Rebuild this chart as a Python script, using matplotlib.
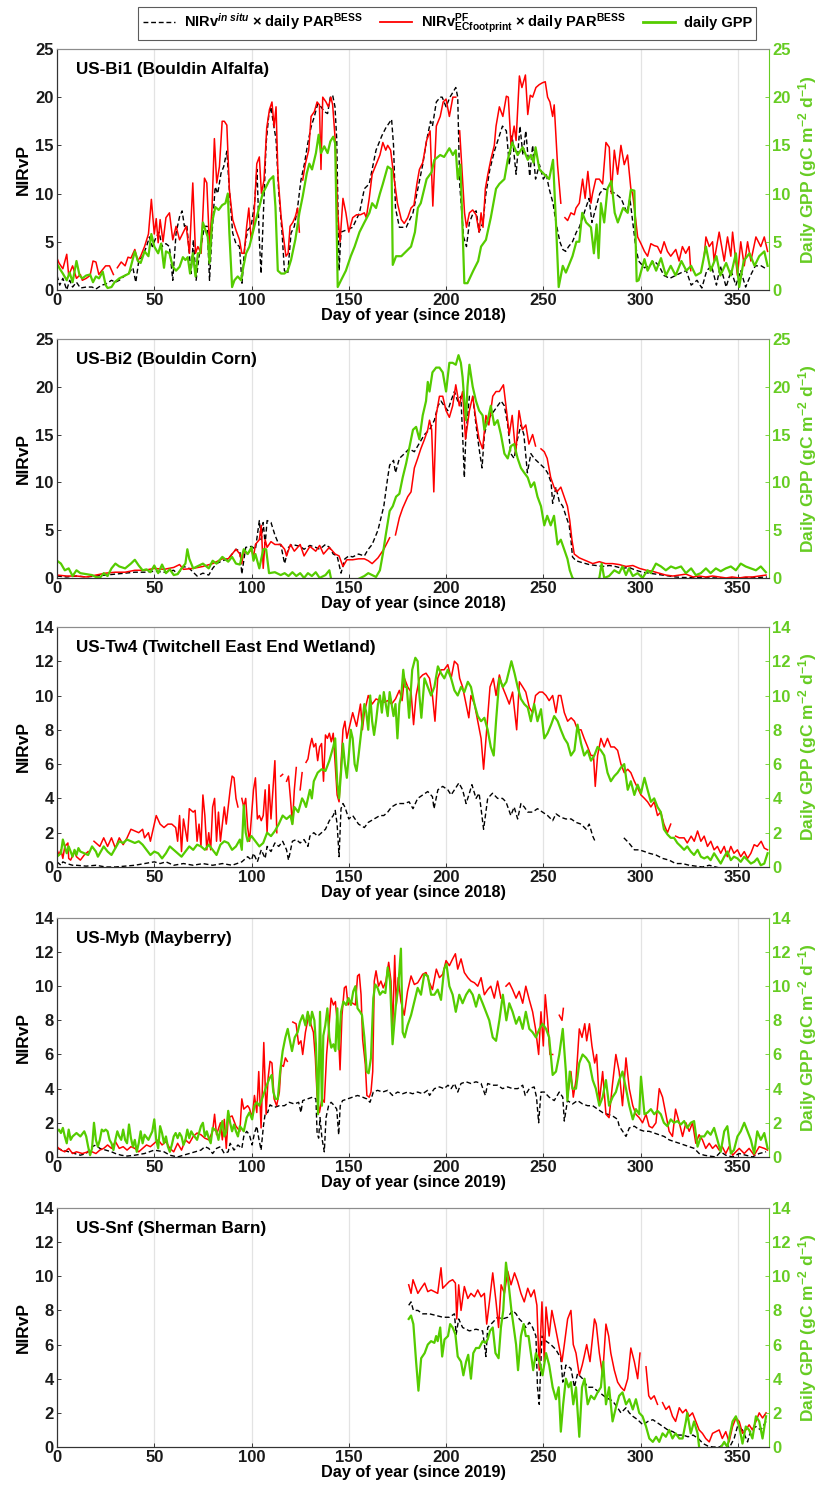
import numpy as np
import matplotlib
matplotlib.use("Agg")
import matplotlib.pyplot as plt
from matplotlib.lines import Line2D

nan = np.nan

# ---------------------------------------------------------------- data
# Each series is a list of (day of year, value); nan marks a data gap.

# US-Bi1 (Bouldin Alfalfa), 2018
bi1_insitu = [(0,1.5),(1.4,0.5),(3,1.2),(5,0.0),(6.5,1.0),(8,0.3),(10,0.8),(12,0.2),(15,0.3),(18,0.3),(20,0.1),(23,0.5),(25,0.6),(28,1.0),(30,0.8),(32,1.0),(35,1.5),(37,1.8),(39,2.3),(40.5,0.8),(42,3.0),(44,3.5),(46,4.5),(47.5,5.5),(49,4.5),(51,5.5),(52.5,6.0),(54,4.5),(56,4.8),(57.8,4.5),(59.5,1.0),(61.2,5.9),(63,7.6),(64.3,8.2),(65.5,6.6),(66.7,6.8),(67.7,4.5),(68.9,1.7),(70.1,5.2),(71.5,1.0),(73.2,3.8),(74.6,5.2),(75.8,6.6),(77.2,6.6),(78.4,1.0),(79.7,5.9),(81.3,10.7),(82.6,10.0),(84.3,12.1),(85.7,12.8),(87.3,14.4),(88.6,10.4),(90.3,5.9),(92,4.8),(93.8,4.5),(95.1,0.7),(96.5,4.5),(98,6.2),(99.8,6.6),(101.5,8.9),(102.8,12.5),(104,5.2),(104.9,1.7),(106.1,8.0),(107.5,15.2),(108.8,18.0),(110,19.0),(111.2,17.3),(112.6,15.6),(113.9,10.4),(115.7,5.9),(116.9,2.0),(118.6,1.7),(120.3,5.9),(122,6.6),(123.7,8.6),(125.4,11.4),(127.2,13.1),(128.9,15.2),(130.6,16.9),(132.3,18.0),(134,19.3),(135.7,19.0),(137.4,18.5),(139.1,18.3),(140.5,20.0),(141.7,20.2),(142.9,19.0),(143.8,15.6),(145,2.0),(146,6.0),(148.5,6.2),(152,6.5),(155.5,8.0),(158,10.5),(160.5,11.0),(164,14.5),(167,16.0),(169,16.8),(172,17.7),(173,15.0),(174,8.5),(176,6.5),(179.5,6.5),(183,8.0),(186,11.0),(188,13.0),(190,15.5),(192,17.5),(193,17.0),(195,19.5),(197,20.0),(198,20.0),(200,19.0),(202,20.0),(203.5,20.5),(205,21.0),(206,20.0),(207,11.0),(209,5.5),(210.5,4.5),(212,7.0),(214,8.0),(215.5,8.2),(217,6.0),(219,7.0),(220.5,10.0),(222.5,12.5),(225,14.5),(227.4,16.0),(229,17.0),(231,16.5),(232.5,13.0),(234,16.0),(236,12.0),(238,17.0),(239.5,14.0),(241,16.5),(243,11.8),(244.5,15.0),(246,11.5),(248,13.0),(250,11.5),(251.5,12.0),(253,10.5),(255,9.0),(256.5,7.0),(258.5,5.0),(260,4.2),(261.5,4.0),(263,4.5),(265,5.0),(267,6.0),(268.5,6.5),(271,8.0),(273.5,9.5),(275,7.0),(277,8.5),(279,10.0),(281,10.5),(284,10.3),(287,10.0),(290,9.5),(293,8.0),(294.5,9.5),(296,7.0),(297.5,4.5),(299,3.0),(302,2.3),(304.5,2.5),(307,3.0),(309.5,2.5),(312,1.5),(315,1.2),(318,1.5),(321,1.8),(323.5,2.0),(326,0.5),(329,1.0),(331.5,0.2),(334,2.0),(336.5,2.5),(339,0.5),(341,2.5),(344,0.3),(346.5,2.0),(349,0.5),(351.5,2.0),(354,0.3),(356.5,1.5),(359,2.5),(362,2.5),(364.5,2.2)]
bi1_pf = [(0,3.3),(1,2.8),(3,2.2),(5,3.7),(6,1.5),(8,2.5),(10,1.2),(12,1.6),(13,1.0),(15,1.2),(17,1.5),(18.5,3.0),(20,2.9),(21.5,1.6),(23,2.0),(25,2.5),(27,2.5),(29,1.6),(30,nan),(31,2.3),(33,2.9),(35,2.5),(36.5,3.4),(38,3.3),(40,4.2),(41.5,3.0),(43,3.5),(45,4.5),(47,5.8),(48.5,9.4),(50,5.8),(51,7.4),(52,4.9),(53,7.3),(54.5,5.0),(56,7.5),(57.8,8.0),(59.5,5.2),(61.2,6.6),(63,5.2),(64.7,5.9),(66.4,6.6),(68.1,3.8),(69.8,11.1),(71.2,3.8),(72.4,4.5),(74.1,3.8),(75.8,11.6),(77,11.1),(78.4,4.5),(79.7,8.6),(80.9,15.7),(82.1,11.1),(83.5,12.8),(84.9,17.5),(86,17.5),(87.3,17.1),(88.6,10.4),(90.3,7.3),(92,6.2),(93.8,5.2),(95,3.8),(96.2,3.8),(97.5,6.6),(98.6,8.5),(99.8,5.2),(101,6.6),(102.7,13.1),(104,13.8),(105.1,10.0),(106.4,11.4),(107.8,16.8),(109.2,18.7),(110.5,19.5),(111.6,16.9),(112.6,19.0),(113.6,11.8),(115.2,7.6),(116.4,5.5),(117.7,3.5),(118.8,3.8),(119.8,6.6),(121.2,7.0),(122.5,7.6),(123.7,8.5),(124.6,6.0),(125.4,nan),(126.3,11.4),(127.7,13.1),(129.4,14.5),(130.6,18.0),(132.3,18.5),(133.7,19.5),(134.9,19.2),(135.7,12.5),(136.6,20.0),(138.3,19.5),(139.5,19.0),(140.8,20.0),(141.7,19.2),(142.9,15.9),(144.3,8.0),(145.5,5.0),(147,9.5),(148.5,8.0),(150,6.0),(152,7.5),(154,7.8),(156,7.8),(158,8.0),(159,7.5),(160.5,9.5),(162,12.0),(164,13.0),(166,14.0),(167.5,15.3),(169,14.5),(170,15.0),(171.5,14.5),(173,12.0),(175,9.0),(177,7.3),(178.5,6.9),(180.3,7.5),(182,8.5),(183.5,8.8),(185,11.0),(186.3,12.5),(188,13.2),(190,15.5),(191.8,16.5),(193.2,8.7),(195,17.0),(197,18.0),(198.5,19.5),(200,19.8),(201.7,18.0),(203.5,20.0),(205,20.0),(206,nan),(207,16.5),(209.5,8.0),(210.5,6.5),(212,8.0),(213.7,8.3),(215.4,7.8),(217,6.0),(218,8.0),(219,6.5),(220.2,10.5),(221.5,12.0),(223,13.5),(224.8,15.0),(225.7,17.0),(227.4,19.0),(229.2,18.0),(231,20.1),(232,20.0),(233.4,15.0),(235,17.0),(236,15.5),(237.7,22.2),(239,21.0),(240.8,22.3),(242,18.2),(243.3,20.2),(244.5,20.0),(246.2,21.0),(247.9,21.3),(249.6,21.5),(251,21.6),(252.2,20.0),(253.4,19.5),(254.8,18.0),(255.6,19.2),(257.3,13.0),(259,9.0),(260,nan),(261.1,7.5),(262.5,7.2),(264.2,8.0),(265.9,7.8),(266.8,8.5),(268.5,9.0),(270.2,11.5),(271.5,9.5),(272.9,12.3),(274.5,9.0),(275.3,10.0),(277,11.5),(278.8,11.5),(280.5,11.0),(282.2,15.3),(283.9,14.8),(285,10.0),(286.5,14.5),(288.2,12.0),(289.9,15.0),(291.6,13.0),(293.3,14.0),(295,10.5),(295.9,10.0),(296.8,8.5),(298.5,5.5),(300.2,4.8),(302,4.0),(303.6,3.5),(305.3,4.8),(307,4.6),(308.7,4.5),(310.4,3.8),(312.1,5.0),(313.8,4.0),(315.5,3.5),(318.1,4.2),(319.8,3.0),(321.5,4.5),(323.2,3.8),(325,4.5),(325.8,2.0),(326.5,nan),(332.7,3.5),(333.6,5.5),(335.3,4.5),(337,5.0),(337.8,3.0),(340.4,6.0),(343,3.0),(344.7,5.5),(346.4,3.5),(347.3,6.0),(349,3.0),(349.8,1.5),(351.5,5.0),(353.3,2.5),(355,5.0),(356.7,3.0),(359.3,5.5),(361.8,4.5),(363.6,5.5),(365.3,4.0)]
bi1_gpp = [(0,2.7),(1.4,2.2),(3,1.7),(5,1.0),(6.5,1.8),(8,0.8),(10,3.0),(11.6,1.5),(13,1.2),(15,1.5),(17,1.6),(18.5,0.8),(20,1.4),(21.6,1.2),(23.5,1.9),(25,0.5),(26,0.2),(28,0.3),(29.6,0.8),(32,1.2),(35,1.5),(37,1.7),(40,4.0),(41.6,3.0),(43,2.8),(45,4.0),(47,3.5),(48.5,5.8),(50,4.5),(52,3.8),(53.5,4.8),(55,2.3),(56,4.0),(57.8,3.8),(59.5,2.4),(61.2,2.0),(63,2.4),(64.7,3.4),(66,3.1),(67.2,3.4),(68.4,1.7),(69.8,3.8),(71.2,1.4),(72.4,3.8),(73.6,3.8),(75,7.0),(76.3,6.2),(77.5,5.5),(78.4,2.8),(79.7,7.0),(81.4,8.6),(83.1,8.3),(84.9,8.8),(86.6,9.0),(87.8,10.0),(88.6,5.9),(90,0.3),(91.2,1.0),(92.9,1.4),(94.6,1.0),(95.8,2.4),(97.2,3.8),(98.9,4.5),(100.6,5.9),(102.3,7.3),(104,8.6),(105.7,10.0),(107.5,10.7),(109.2,11.4),(111.2,11.8),(112.3,8.6),(113.5,2.0),(115.2,1.7),(116.9,1.7),(118.6,2.0),(120.3,3.1),(122.5,5.2),(124.6,8.0),(126.3,9.7),(128.4,12.1),(129.7,13.1),(131.1,12.5),(133.1,14.2),(134.5,16.1),(135.7,14.2),(137.4,14.9),(139.1,14.2),(140.5,15.4),(142,15.9),(143,15.2),(144.3,0.3),(146,1.0),(148.5,2.0),(151,3.5),(153,4.5),(155.5,6.0),(158,7.0),(160.6,8.0),(162,9.0),(164,8.5),(166,10.0),(167.5,11.0),(170,12.8),(172,12.5),(172.6,2.6),(174.3,3.5),(177,3.5),(179.5,4.0),(182,4.5),(184,6.0),(185.5,8.5),(187,9.0),(190,11.5),(192.5,12.2),(194,13.5),(197,14.0),(199,13.8),(201.7,14.7),(203.5,14.0),(205,14.5),(206,11.5),(207.4,13.0),(209.4,0.7),(211,0.7),(214,2.0),(216.5,3.0),(218,4.5),(220.5,5.2),(223,7.5),(225.7,10.5),(227.4,11.0),(230,11.5),(231.7,13.5),(234,15.3),(236.8,14.0),(239.4,14.8),(242,13.5),(243.6,14.0),(245,13.2),(246,14.8),(248,12.5),(250.5,12.0),(253,11.5),(255,13.5),(256.5,7.0),(257.9,0.3),(260,2.5),(261.6,1.8),(263,2.5),(265,3.5),(267,5.0),(268.5,5.0),(270,8.0),(272,7.0),(274.5,6.5),(276,3.8),(277.4,6.8),(278.4,3.3),(279.6,9.0),(281.3,7.0),(283,10.5),(285,11.3),(286.7,8.0),(288.3,7.0),(291,8.5),(293.4,8.0),(295,10.4),(296.8,10.3),(298,0.9),(299,1.0),(302,3.2),(303.6,2.0),(306,3.0),(308,2.0),(310.5,3.3),(313,1.5),(315.5,2.5),(318,1.5),(321,3.0),(323.5,2.0),(326,2.5),(328.4,1.5),(331,1.8),(333.6,4.5),(336,2.0),(339,3.5),(341,1.5),(344,2.8),(346.4,1.5),(349,3.8),(350.7,0.3),(353,3.0),(356,3.8),(358.6,2.5),(361,3.5),(363.6,4.0),(365.3,2.5)]

# US-Bi2 (Bouldin Corn), 2018
bi2_insitu = [(0,0.2),(5,0.1),(10,0.2),(15,0.1),(20,0.2),(25,0.3),(30,0.4),(35,0.5),(40,0.6),(45,0.6),(50,0.7),(55,0.6),(60,0.8),(62,0.4),(65,1.2),(68,1.0),(70,0.6),(72,0.2),(75,0.5),(78,0.3),(80,1.0),(82,1.5),(85,1.8),(88,2.0),(90,2.5),(92,3.0),(94,2.8),(95,0.4),(97,3.2),(100,3.3),(102,3.0),(103,4.5),(104,6.0),(105,4.0),(106,5.8),(107,3.5),(108,6.0),(110,5.8),(112,4.5),(114,3.5),(115,3.5),(117,1.5),(119,3.2),(121,3.5),(125,3.3),(127,3.0),(130,3.4),(133,3.2),(135,3.0),(138,3.5),(140,3.2),(142,2.5),(144,2.3),(146,0.5),(148,2.0),(150,2.3),(152,2.2),(155,2.5),(158,2.3),(160,3.0),(162,3.5),(165,5.0),(168,7.5),(170,10.5),(171,11.8),(173,12.3),(174,11.0),(176,12.5),(178.6,13.0),(181,13.5),(183.7,13.2),(186,14.0),(188.9,15.0),(191.5,15.5),(194,16.5),(195.8,18.0),(197.4,18.5),(199,18.0),(200.9,17.5),(202.5,18.5),(204.3,19.5),(206,18.5),(207.6,19.0),(208.5,15.0),(209.4,10.5),(210.2,15.0),(212,19.0),(213.7,19.0),(215.4,16.0),(217,13.5),(218.5,11.5),(219.7,15.0),(221.4,16.5),(223,17.0),(224.8,17.5),(226.5,18.0),(228.3,18.5),(230,18.0),(231.7,16.0),(233.3,13.0),(235,12.5),(236.7,14.5),(238.5,16.0),(240,15.0),(241.8,11.0),(243.6,13.0),(245.3,12.5),(247.9,12.0),(250.5,11.5),(252.2,11.0),(254,10.0),(254.8,7.8),(256.5,9.5),(258.2,8.0),(260,7.5),(261.6,6.5),(263.3,5.5),(264.2,4.0),(265,2.2),(266.8,1.8),(270,1.6),(273.6,1.4),(277,1.3),(280.5,1.2),(284,1.3),(287,1.2),(290.7,1.0),(294,1.1),(297.6,0.8),(301,0.6),(304.5,0.5),(307.8,0.4),(311.3,0.3),(314.7,0.2),(318,0.1),(321.6,0.05),(330,0.02),(340,0.0),(350,0.02),(360,0.05),(365,0.1)]
bi2_pf = [(0,0.3),(5,0.2),(10,0.2),(15,0.1),(20,0.3),(25,0.5),(30,0.6),(35,0.6),(40,0.8),(45,0.8),(50,1.0),(55,0.9),(60,1.1),(63,1.4),(65,0.9),(70,1.0),(75,1.2),(80,1.5),(85,2.0),(88,2.0),(90,2.5),(92,3.0),(94,2.5),(95,1.5),(96,2.8),(98,2.5),(100,3.0),(101,2.2),(102,3.5),(104,4.0),(105,5.5),(106,1.0),(107,4.0),(108,3.2),(110,3.8),(112,3.5),(115,3.5),(117,3.0),(118,2.3),(120,3.5),(122,2.8),(125,3.5),(127,2.3),(130,3.3),(133,2.8),(135,3.4),(137,2.5),(140,3.2),(143,2.5),(145,2.3),(147,1.2),(149,1.9),(152,1.9),(155,2.0),(158,2.0),(160,1.8),(162,1.5),(165,2.1),(168,3.0),(171,4.2),(172,nan),(174,4.5),(176,6.3),(177.7,7.3),(180.3,8.5),(182,9.0),(183.7,11.5),(185.4,12.5),(187,13.5),(188.9,14.5),(190.6,15.5),(191.5,16.5),(192.6,15.5),(193.7,9.0),(194.9,17.0),(196.6,19.0),(198.3,19.0),(200,17.5),(201.7,16.8),(203.4,18.0),(205,20.2),(206.8,18.0),(208.5,19.5),(210,14.5),(212,17.5),(213.7,19.0),(215.4,16.5),(217,14.5),(218.8,13.5),(220.5,17.0),(222,16.0),(224,19.0),(225.7,19.5),(227.4,19.5),(229.5,20.2),(230.8,18.0),(232.5,15.0),(234,17.0),(235.8,13.0),(237.5,17.5),(239.2,15.5),(241,16.0),(242.6,14.0),(244.5,15.0),(246,13.8),(247,nan),(248.8,13.5),(250.5,13.2),(252,12.5),(253.8,10.5),(255.5,9.5),(257,9.0),(259,9.5),(260.7,8.5),(262.4,7.5),(263.6,6.0),(264.7,4.0),(265.9,2.5),(268.5,2.1),(272,1.8),(275.4,1.5),(278.8,1.7),(282,1.5),(285.6,1.5),(289,1.4),(292.5,1.2),(296,1.3),(299.4,1.0),(303,0.8),(306,0.7),(309.6,0.5),(313,0.3),(316.6,0.2),(320,0.3),(323.3,0.4),(327,0.1),(330,0.2),(333.5,0.1),(337,0.2),(340.4,0.1),(344,0.0),(347,0.1),(350.7,0.0),(354,0.1),(357.5,0.1),(361,0.2),(364.5,0.3)]
bi2_gpp = [(0,1.8),(2,1.5),(4,0.8),(6,1.0),(8,0.2),(10,0.8),(12,0.5),(15,0.4),(18,0.3),(20,0.1),(22,0.0),(24,0.5),(26,0.2),(28,1.0),(30,1.5),(32,1.2),(35,1.0),(38,1.5),(40,1.9),(42,1.3),(44,0.8),(46,0.9),(48,0.6),(50,1.3),(52,0.5),(54,1.4),(56,0.5),(58,0.9),(60,0.3),(62,0.4),(64,1.0),(66,1.5),(67,3.0),(68,2.0),(70,1.0),(72,1.2),(75,1.5),(78,1.0),(80,1.8),(82,1.5),(85,2.2),(88,1.7),(90,2.2),(92,1.5),(94,1.4),(96,3.0),(98,2.5),(100,3.2),(101,1.8),(102,2.5),(104,1.0),(106,3.0),(107.5,3.0),(109,0.5),(112,0.6),(115,0.3),(117,0.5),(119,0.2),(121,0.6),(123,0.2),(125,0.5),(127,0.0),(129,0.5),(131,0.2),(133,0.6),(135,0.0),(138,0.3),(140,0.8),(141,-0.2),(145,-0.8),(150,-0.8),(154,-0.2),(156,0.0),(158,0.2),(160,0.5),(162,0.3),(164,0.1),(166,0.8),(167.5,2.5),(169,4.5),(171,7.0),(172.6,7.5),(174.3,8.5),(176,8.8),(177.7,10.5),(179.5,12.0),(181,13.5),(183,15.5),(184.6,15.8),(186.3,14.5),(188,17.0),(189.7,18.5),(190.6,20.5),(191.5,19.5),(193,21.5),(194.9,22.0),(196.6,22.0),(198.3,21.5),(200,19.5),(201.7,22.5),(203.4,22.5),(205,22.3),(206.4,23.3),(207.6,22.5),(208.5,21.0),(209.4,18.5),(210.3,16.5),(211,20.0),(212,22.3),(213.7,20.0),(215.4,18.5),(217,17.5),(218.8,17.0),(219.7,15.5),(221.4,16.5),(223,18.0),(224.8,16.0),(226.5,16.5),(228.2,15.0),(230,13.0),(231.7,12.5),(233.4,13.8),(235,14.0),(236.8,12.5),(238.5,11.5),(240.2,11.0),(242,10.5),(243.6,9.5),(245.3,10.0),(247,8.5),(248.8,7.5),(250.5,5.5),(252,6.5),(253.8,5.5),(255.5,6.5),(257.3,3.5),(259,4.0),(260.7,3.0),(262.4,2.0),(263.6,0.8),(265,0.0),(268,-0.5),(273,-0.8),(277,-0.3),(278.8,0.0),(280,1.5),(281.3,0.0),(283.8,0.2),(286.5,0.8),(289,0.5),(290.7,1.2),(292.5,0.3),(294,1.0),(296,0.2),(298.5,0.5),(301,0.0),(303.6,0.8),(305.3,0.5),(307.9,1.5),(310.5,1.2),(313,0.8),(315.6,1.2),(318,1.0),(320.8,1.2),(323.3,0.5),(326,1.0),(328.4,0.3),(331,0.5),(333.6,1.0),(336,0.5),(338.7,1.0),(341.2,0.7),(343.8,1.0),(346.4,1.2),(349,0.8),(351.5,1.5),(354,1.2),(356.7,1.0),(359.3,0.8),(361.8,1.2),(364.4,0.6)]

# US-Tw4 (Twitchell East End Wetland), 2018
tw4_insitu = [(0,0.3),(2,0.1),(3,0.3),(5,0.2),(8,0.1),(10,0.1),(15,0.05),(20,0.1),(25,0.0),(30,0.0),(35,0.05),(40,0.1),(45,0.2),(50,0.3),(53,0.2),(56,0.3),(60,0.1),(65,0.2),(70,0.1),(75,0.2),(80,0.1),(85,0.2),(90,0.1),(95,0.3),(98,0.6),(100,0.4),(101,0.8),(103,0.3),(105,1.0),(107,0.5),(108,1.2),(110,0.9),(112,1.4),(114,1.2),(116,1.5),(118,1.0),(119,0.4),(121,1.5),(123,1.6),(125,1.4),(127,1.6),(129,1.2),(130,1.8),(132,2.0),(134,1.8),(136,2.0),(138,2.2),(140,2.7),(142,3.0),(143,3.3),(144,2.5),(145,0.6),(146,3.4),(147,3.7),(148,3.5),(150,2.8),(152,3.0),(155,2.5),(158,2.3),(160,2.6),(163,2.8),(166,3.0),(168,3.0),(170,3.2),(172,3.5),(175,3.7),(178.6,3.7),(181,3.8),(183,3.4),(185.4,4.0),(188,4.2),(190.6,4.4),(193,4.1),(193.8,3.4),(195.8,4.5),(198.3,4.7),(200.9,4.5),(202.6,4.2),(204.3,4.5),(206.6,4.9),(208.5,4.5),(210.3,3.7),(212,4.3),(213.3,4.8),(215.4,4.0),(217,4.3),(219.3,2.2),(221.4,4.0),(223.9,4.3),(226.5,4.0),(229,4.0),(230.8,3.8),(233.3,3.0),(235,3.5),(236.8,2.8),(238.5,3.7),(240.2,3.5),(242,3.2),(244.5,3.2),(247,3.4),(249.6,3.2),(252.2,3.0),(254.8,2.7),(256.5,3.1),(259,2.9),(261.6,2.8),(264.3,2.8),(266.8,2.6),(269.4,2.5),(272,2.2),(273.6,2.5),(275.4,1.8),(277,1.4),(278,nan),(291.4,1.7),(294,1.4),(296.8,1.0),(299.3,1.0),(302,0.9),(304.4,0.8),(307.9,0.7),(311.3,0.5),(314.7,0.4),(318,0.2),(321.6,0.2),(325,0.1),(328.4,0.05),(331.8,0.0),(335.3,0.1),(338.7,0.0),(342,-0.1),(350,-0.2),(365,-0.2)]
tw4_pf = [(0,1.0),(1,0.7),(2,1.0),(3,0.5),(4,1.2),(5.6,1.4),(6,0.5),(7,0.4),(9,0.9),(10,0.6),(12,0.4),(14,0.7),(16,0.9),(17,nan),(19,1.5),(20,1.4),(22,1.2),(24,1.7),(26,1.2),(28,1.7),(30,1.1),(32,1.7),(34,1.3),(36,1.7),(38,2.2),(40,2.1),(42,2.0),(44,2.2),(45,1.7),(47,2.0),(48,1.5),(50,2.5),(51,3.0),(53,2.5),(55,2.3),(57,2.5),(59,2.5),(61,2.3),(62,1.5),(63,3.0),(64,0.9),(65,2.8),(67,1.5),(68,3.4),(70,3.2),(71,3.3),(72,1.5),(73,2.5),(74,1.2),(75,4.2),(76,3.0),(77,1.0),(78,2.0),(79,1.0),(80,3.5),(81,4.0),(82,1.5),(83,3.2),(84,1.5),(86,3.5),(87,2.5),(89,4.5),(90,5.3),(91,5.2),(92,4.0),(93,3.5),(94,nan),(95,4.0),(96,3.5),(97,4.0),(98,2.3),(99,1.5),(100,3.0),(101,4.5),(102,5.2),(103,2.8),(104,3.0),(105,2.7),(106,3.0),(107,4.5),(108,2.0),(109,4.8),(110,2.8),(111,4.5),(112,6.2),(113,2.0),(114,nan),(115,5.3),(116,5.4),(117,nan),(118,5.0),(119,5.3),(120,4.0),(121,2.5),(122,4.5),(123,5.8),(124,nan),(125,4.5),(126,5.5),(127,nan),(128,6.1),(129,6.3),(130,7.0),(131,7.5),(132,7.0),(133,7.2),(134,6.2),(135,7.0),(136,7.2),(137,5.0),(138,7.7),(139,7.5),(140,7.8),(141,7.3),(142,7.8),(143,6.0),(144,4.2),(145,3.8),(146,6.0),(147,8.0),(148,8.5),(149,7.5),(150,8.0),(152,9.0),(154,8.2),(156,9.5),(157,8.0),(158,9.0),(160,10.0),(162,9.5),(164,9.8),(166,9.7),(168,9.6),(170,9.7),(172,9.5),(174,9.8),(176,10.3),(177.4,9.7),(178.6,11.0),(180.3,10.5),(182,10.2),(183.3,8.3),(184.6,10.0),(186.3,11.0),(188,11.2),(189.7,11.3),(191.5,11.0),(193,10.0),(194.3,8.5),(195.7,11.0),(197.4,11.5),(199,11.5),(200.9,11.8),(202.6,11.0),(204.3,12.0),(206,11.8),(207,11.0),(208.5,10.5),(210.3,9.5),(211.7,8.7),(212.8,10.0),(214.6,9.5),(216.3,8.5),(218,7.5),(219.3,5.7),(220.9,8.0),(222.6,10.5),(224.3,11.0),(225.7,10.0),(227.4,11.2),(229,10.5),(230.8,10.0),(232.5,9.5),(234.2,10.2),(236.3,8.0),(237.7,10.8),(239.4,10.5),(241,10.2),(242.8,9.3),(244.5,9.0),(246,10.0),(248,10.2),(249.6,10.2),(251.4,10.0),(253,9.7),(254.8,10.0),(256.5,9.0),(257.8,10.0),(259,10.0),(260.8,9.0),(262.5,8.5),(264.3,8.7),(266,8.5),(267.6,8.0),(269.4,8.0),(271,7.5),(272.8,7.0),(274.5,6.5),(275.8,6.5),(276.7,4.7),(277.9,6.5),(279.6,7.5),(281.3,7.0),(283,7.5),(284.7,7.0),(286.5,7.0),(288.2,6.8),(289.9,6.0),(291.6,5.5),(293.4,5.7),(295,5.5),(296.8,5.0),(298.5,4.6),(300.2,4.2),(302,4.0),(303.6,3.8),(305.3,3.5),(307,3.8),(308.7,3.0),(310.4,3.2),(312,2.5),(313.8,2.0),(315.5,2.5),(316.5,nan),(318,1.8),(319.9,1.7),(322.4,1.7),(324,1.4),(326,1.8),(327.6,1.5),(329.3,2.1),(331,1.5),(332.7,1.8),(334.4,1.2),(336.1,1.5),(337.8,1.0),(339.5,1.2),(341.2,0.8),(343,1.2),(344.6,0.6),(346.4,1.2),(348,0.8),(349.8,1.0),(351.5,0.6),(353.3,0.9),(355,0.5),(356.7,0.8),(358.4,1.3),(360,1.2),(362,1.5),(363.6,1.1),(365.3,1.0)]
tw4_gpp = [(0,0.6),(2,0.8),(3,1.6),(4,1.2),(5,0.8),(6,1.2),(8,0.6),(9,1.0),(10,0.7),(11,1.1),(12,0.9),(14,0.8),(16,0.7),(18,1.2),(20,0.9),(21,0.6),(22,0.8),(24,1.2),(26,0.9),(28,0.7),(30,1.1),(32,1.5),(34,1.4),(36,1.6),(38,1.5),(40,1.4),(42,1.5),(44,1.3),(46,1.0),(48,0.7),(50,0.9),(52,0.8),(54,0.5),(56,0.8),(58,1.2),(60,1.0),(62,0.8),(64,0.6),(66,0.9),(68,1.2),(70,1.0),(72,1.3),(74,1.2),(76,1.0),(78,1.3),(80,1.0),(82,0.7),(84,1.3),(86,1.5),(88,1.4),(90,1.0),(92,1.2),(94,1.6),(95,1.0),(96,3.6),(97,2.0),(98,1.5),(100,1.8),(102,1.5),(104,1.2),(106,1.4),(108,2.0),(110,1.8),(112,2.1),(114,2.5),(116,3.0),(118,2.8),(120,3.0),(121,2.5),(122,3.5),(124,3.2),(126,4.0),(127,3.8),(128,3.5),(130,4.5),(131,4.0),(132,5.0),(134,5.5),(136,5.7),(138,5.6),(140,6.2),(142,7.0),(143,7.5),(144,5.0),(145,4.0),(146,5.5),(147,7.2),(148,6.0),(149,5.2),(150,6.5),(151,8.0),(152,7.5),(153,6.0),(154,5.6),(155,6.5),(156,7.5),(157,8.5),(158,9.5),(159,9.0),(160,8.0),(161,10.0),(162,8.5),(163,7.7),(164,8.5),(165,9.5),(166,10.0),(167,9.0),(168,10.2),(169,9.5),(170,8.8),(171,10.2),(172,9.5),(173,8.8),(174,9.5),(175,7.5),(176,9.5),(177,10.0),(178,11.5),(179,10.5),(179.8,10.5),(181,8.7),(182.6,11.5),(184.2,12.2),(185.4,12.0),(186.3,10.0),(187.3,8.7),(188.9,11.0),(190.6,10.5),(192.3,10.0),(194,10.5),(195.8,11.7),(197.4,11.3),(199.1,11.0),(200.9,11.5),(202.6,11.0),(204.3,10.3),(206,10.0),(207.7,10.5),(209.4,10.2),(211.2,10.8),(212.8,10.5),(214.6,9.5),(216.3,8.8),(218,8.5),(219.7,8.7),(221.4,8.0),(223,7.0),(224.5,6.5),(225.7,8.5),(227.4,11.0),(229.2,10.5),(231,10.8),(232.5,11.5),(233.6,12.0),(235.2,11.3),(236.8,10.5),(238.5,9.8),(240.2,9.5),(242,9.3),(243.6,8.5),(245.3,9.5),(247,8.5),(248.8,9.2),(250.5,7.5),(252.2,7.8),(254,8.3),(255.6,8.8),(257.4,8.5),(259,8.0),(260.8,7.5),(262.5,7.2),(264.2,6.5),(266,6.8),(267.6,8.3),(269.4,7.2),(271,6.5),(272.8,6.8),(274.5,6.2),(276.2,6.5),(277.9,7.0),(279.6,6.8),(281.3,6.5),(283,5.5),(284.7,5.0),(286.5,5.3),(288.2,5.5),(289.9,5.8),(291.6,6.0),(293.4,4.5),(295,5.0),(296.8,4.2),(298.5,4.8),(300.2,4.3),(302,5.2),(303.6,4.5),(305.3,3.8),(307,4.0),(308.7,3.5),(310.4,3.2),(312,2.2),(313.8,1.9),(315.5,1.7),(317.2,1.7),(318.9,1.4),(320.7,1.2),(322.4,1.0),(324,1.2),(325.8,0.9),(327.5,0.7),(329.3,1.0),(331,0.6),(332.7,0.5),(334.4,0.6),(336,0.4),(337.8,0.8),(339.5,0.5),(341.2,0.2),(343,0.6),(344.6,0.9),(346.4,0.4),(348,0.6),(349.8,0.5),(351.5,0.3),(353.3,0.6),(355,0.4),(356.7,0.2),(358.4,0.3),(360,0.5),(361.8,0.1),(363.6,0.2),(365.3,0.8)]

# US-Myb (Mayberry), 2019
myb_insitu = [(0,0.5),(3,0.4),(6,0.3),(9,0.2),(12,0.1),(15,0.2),(18,0.6),(20,0.7),(22,0.5),(25,0.4),(28,0.3),(30,0.2),(33,0.1),(36,0.05),(40,0.1),(45,0.2),(50,0.4),(55,0.3),(58,0.1),(62,0.0),(65,0.1),(68,0.2),(71,0.3),(74,0.4),(76,0.6),(78,0.5),(80,0.2),(82,0.5),(84,0.6),(86,0.2),(88,0.3),(89,0.8),(91,0.4),(93,0.7),(95,0.5),(96,1.2),(97.5,1.5),(98.9,1.3),(100.3,0.7),(101.5,1.4),(102.7,1.8),(103.7,1.1),(104.9,0.4),(106.1,1.8),(107.1,2.6),(108.3,2.6),(109.5,3.05),(111.7,2.9),(114.3,3.0),(116.9,3.0),(119.4,3.2),(122,3.1),(124.2,3.2),(125.4,2.6),(126.3,3.3),(128.9,3.4),(131.4,3.5),(133.1,3.4),(133.7,1.4),(134.5,1.1),(135.2,2.3),(136.2,1.1),(137.4,0.3),(138.3,2.3),(139.6,3.0),(140.9,3.2),(142.6,3.0),(143.8,2.8),(144.8,1.3),(145.6,3.0),(146.8,3.3),(149.4,3.4),(152,3.5),(154.5,3.6),(157.1,3.5),(159.2,3.4),(160.9,3.2),(162.6,3.8),(164.8,3.9),(167.4,3.8),(170,3.9),(172.5,3.6),(175.1,3.8),(177.7,3.7),(180.2,3.8),(182.8,3.7),(185.4,3.8),(188,3.7),(190.5,3.9),(191.5,3.6),(194,4.0),(196.6,4.1),(199,4.0),(201,4.2),(202.6,4.0),(204.3,4.3),(206,3.8),(207.7,4.3),(210.3,4.4),(212.8,4.3),(215.4,4.4),(218,4.3),(220.2,3.6),(221.4,4.3),(223.9,4.2),(226.5,4.2),(229,4.0),(231.7,4.1),(234.2,4.0),(236.8,4.0),(239.4,4.2),(240.7,3.6),(242.8,4.0),(245.3,4.1),(246.5,3.5),(247.6,2.0),(248.8,3.8),(250.5,3.8),(253,3.5),(255.6,3.3),(258.2,3.8),(260,3.5),(260.8,2.1),(262.4,3.3),(265,3.1),(267.6,3.3),(270.2,3.1),(272.8,3.0),(275.4,3.0),(277.9,2.8),(280.5,2.6),(283,2.5),(285.6,2.4),(288.2,2.2),(289,1.8),(290.8,1.5),(292.5,1.2),(294.2,1.7),(296.8,1.8),(299.3,1.6),(302,1.5),(304.4,1.5),(307,1.4),(309.6,1.3),(312.1,1.2),(314.7,1.0),(317.2,0.9),(319.9,0.8),(322.4,0.7),(325,0.6),(327.6,0.5),(330.1,0.2),(332.7,0.1),(335.3,0.05),(338.7,0.0),(341.2,0.3),(343.8,0.1),(347.3,0.0),(350.7,0.2),(354.1,0.1),(357.5,0.0),(361,0.2),(364.5,0.3)]
myb_pf = [(0,0.6),(2,0.4),(4,0.3),(6,0.5),(8,0.2),(10,0.3),(13,0.2),(16,0.3),(18,0.3),(20,0.2),(22,0.4),(24,0.5),(26,0.7),(28,0.5),(30,0.9),(32,0.5),(34,0.6),(36,0.4),(38,0.6),(40,0.5),(42,0.3),(44,0.5),(46,0.7),(48,0.6),(50,0.8),(52,1.0),(54,0.7),(56,0.9),(58,0.5),(60,0.3),(62,0.8),(64,0.4),(66,1.0),(68,0.8),(70,1.2),(72,1.4),(74,1.3),(76,1.1),(78,1.0),(80,1.5),(81,2.5),(82,1.3),(84,2.0),(85,1.0),(86,2.2),(87,0.5),(88,2.3),(90,2.4),(92,1.8),(94,1.5),(95,3.4),(96,2.8),(98,3.0),(98.9,2.85),(100.3,2.3),(101.5,3.6),(102.7,2.6),(103.7,5.0),(104.9,1.7),(106.3,6.7),(107.5,2.5),(108.5,4.6),(109.5,5.6),(110.5,5.5),(111.6,3.4),(112.9,3.0),(114.3,3.8),(115.2,5.4),(116.4,5.3),(117.4,5.8),(118.4,5.6),(119.5,nan),(121.2,7.9),(122.9,7.8),(124.2,6.6),(125.4,6.8),(126.3,6.0),(127.7,7.3),(129.4,8.3),(130.7,7.7),(131.8,7.3),(132.8,5.8),(133.7,3.6),(134.9,2.6),(136.2,3.4),(137.4,3.2),(138.6,6.0),(140,7.9),(140.9,9.3),(142.1,8.9),(143.1,9.1),(143.9,8.1),(144.8,6.9),(145.5,5.1),(146.5,8.3),(147.7,9.9),(148.6,10.0),(149.6,8.9),(150.6,9.1),(152,9.0),(153.4,8.9),(154.5,10.6),(155.4,10.7),(156.3,9.5),(157.1,6.9),(158.5,5.4),(159.3,3.6),(160.5,3.5),(161.4,3.8),(162.3,5.0),(163.1,10.3),(164,10.9),(165.3,10.0),(166.5,10.3),(167.7,9.9),(169.1,10.3),(170.5,11.4),(171.7,10.3),(172.5,7.3),(173.6,11.8),(174.4,8.9),(175.4,10.5),(176.8,9.1),(178.5,8.3),(180.2,9.7),(182,10.6),(183.7,10.1),(185.4,10.2),(188,10.7),(189.7,10.8),(191.5,10.2),(193,9.8),(195,11.0),(196.6,10.5),(198.3,10.7),(200,11.5),(201.7,11.2),(203.4,11.6),(204.8,11.9),(206,11.0),(207.7,11.6),(209.4,10.8),(211.2,10.5),(212.8,10.3),(214.6,10.2),(216.3,10.0),(218,10.5),(219.7,9.5),(221.4,9.8),(223,10.0),(224.8,9.3),(226.5,10.3),(228.2,9.3),(229.5,nan),(230.8,10.0),(232.5,10.2),(234.2,9.8),(236,9.3),(237.6,9.7),(239.4,9.0),(241,10.0),(242.8,9.2),(244.5,8.5),(246,7.5),(247.6,6.0),(248.8,8.5),(250,6.5),(251,9.5),(252.2,8.0),(253.4,6.0),(254.8,6.0),(256,nan),(258.2,8.3),(259.6,8.0),(260.3,8.7),(261.3,nan),(262.4,3.5),(264.2,5.0),(265.4,3.5),(266.8,4.5),(268.5,7.5),(269.9,7.0),(271.3,7.8),(272.3,6.8),(273.7,7.8),(275,6.5),(276.4,5.5),(277.4,6.0),(278.8,3.2),(280.5,5.0),(282.2,2.5),(283.8,2.3),(285.6,4.3),(287.3,6.0),(289,5.0),(290.7,3.0),(292.5,5.8),(294.2,4.0),(296,3.0),(297.6,2.5),(299.3,2.3),(301,2.0),(302.8,2.5),(304.4,1.8),(306,1.7),(307.9,2.0),(309.6,4.0),(311.3,3.5),(313,2.5),(314.7,1.5),(316.4,1.2),(318,2.8),(319.9,2.0),(321.6,1.2),(323.3,2.0),(325,1.5),(326.7,2.0),(328.4,0.8),(330.1,1.3),(331.8,1.0),(333.5,0.5),(335.3,0.8),(337,0.5),(338.7,0.7),(340.4,0.4),(342,0.6),(343.8,0.2),(345.5,0.6),(347.3,0.1),(349,0.3),(350.7,0.5),(353.3,0.2),(355.8,0.5),(358.4,0.1),(361,0.6),(363.6,0.5),(365.3,0.4)]
myb_gpp = [(0,1.5),(1,1.6),(2,1.4),(3,1.7),(4,1.2),(5,0.8),(6,1.6),(7,1.0),(8,1.2),(10,1.4),(12,1.2),(14,1.5),(15,1.2),(16,0.6),(17,0.1),(18,0.5),(19,2.0),(20,1.0),(21,0.6),(22,1.0),(23,1.6),(24,1.5),(25,1.6),(26,1.5),(27,1.0),(28,0.8),(29,0.4),(30,1.0),(31,1.5),(32,1.2),(33,1.0),(34,1.6),(35,1.0),(36,0.8),(37,1.9),(38,1.1),(39,0.6),(40,1.0),(41,0.3),(42,0.8),(43,1.5),(44,0.8),(45,1.3),(47,1.0),(49,1.5),(50,2.2),(51,1.0),(52,0.5),(53,1.8),(54,1.4),(55,0.8),(56,1.2),(57,0.6),(58,0.3),(59,0.7),(60,1.2),(61,1.4),(62,1.1),(63,1.4),(64,1.2),(65,0.7),(66,1.0),(67,1.6),(68,1.1),(69,1.5),(70,1.3),(72,1.0),(74,1.8),(75,2.0),(76,1.2),(77,1.5),(78,1.1),(79,0.8),(80,1.7),(82,1.5),(83,1.0),(84,1.6),(85,2.1),(86,1.2),(87,1.5),(88,2.7),(89,2.0),(90,1.5),(91,1.9),(92,1.5),(93,1.2),(94,1.8),(96,1.5),(97.5,2.3),(98.9,2.6),(100.3,2.2),(101.5,3.0),(102.7,3.2),(104,3.0),(105.4,3.4),(106.6,3.8),(107.8,4.2),(109.2,4.6),(110.4,4.8),(111.2,3.8),(112.3,3.4),(113.5,3.4),(114.7,5.0),(116,6.2),(117.4,7.0),(118.6,7.5),(119.4,7.0),(120.8,6.2),(122.2,7.0),(123.7,7.3),(124.9,7.9),(126.3,8.3),(127.7,7.7),(128.9,8.5),(130.1,7.7),(131.1,8.5),(132.3,8.0),(133.1,6.6),(134.2,2.5),(135.2,8.5),(136.2,3.0),(136.9,7.1),(137.9,7.7),(139,8.7),(140,7.0),(141,6.4),(142.1,6.6),(143.1,6.2),(144.1,8.7),(144.8,6.3),(146,8.5),(147.2,9.1),(148.6,8.9),(149.9,9.3),(151.1,8.9),(152.3,9.7),(153.4,10.0),(154.5,8.7),(155.8,8.5),(156.8,8.3),(158,7.0),(159.2,5.0),(160.2,4.9),(161.4,5.8),(162.6,9.3),(163.6,10.1),(164.8,9.9),(166,9.5),(167.4,9.7),(168.8,9.6),(170,11.1),(171.2,10.3),(172.5,6.6),(174.2,8.9),(175.4,9.9),(176.8,12.2),(177.7,7.3),(178.7,7.0),(180.2,7.7),(182,8.3),(183.7,9.1),(185.4,9.9),(187.1,9.5),(188.8,10.7),(190.6,10.6),(192.3,9.5),(194,9.5),(195.7,9.8),(197.4,9.2),(199,11.0),(200.2,11.3),(201.7,10.0),(203.4,9.5),(205,8.5),(206.8,9.5),(208.5,9.0),(210.3,9.5),(212,9.8),(213.7,9.5),(215.4,8.8),(217,9.5),(218.8,9.0),(220.5,8.5),(222.2,8.0),(224,7.0),(225.7,6.8),(227.4,8.0),(229.2,9.5),(231,8.0),(232.5,9.0),(234.2,8.5),(236,7.8),(237.6,8.2),(239.4,7.5),(241,8.5),(242.8,7.5),(244.5,7.3),(246.2,7.0),(248,7.5),(249.6,7.8),(251.4,7.5),(253,7.0),(254.8,4.8),(256.5,5.0),(258.2,6.0),(260,7.5),(261.6,5.0),(262.4,3.3),(263.6,5.0),(265,4.0),(266.8,4.0),(268.5,5.5),(270.2,6.0),(272,5.8),(273.7,5.5),(275.4,4.5),(277,4.0),(278.8,3.0),(280.5,3.5),(282.2,4.5),(283.8,3.0),(285.6,3.5),(287.3,3.8),(289,4.5),(290.7,5.0),(292.5,4.0),(294.2,3.0),(296,2.2),(297.6,2.8),(299.3,2.5),(300.2,4.7),(302,2.5),(303.6,2.6),(305.3,2.8),(307,2.5),(308.7,2.7),(310.4,2.5),(312,2.0),(313.8,1.8),(315.5,2.2),(317.2,2.0),(318.9,2.1),(320.7,1.9),(322.4,2.1),(324,1.7),(325.8,2.0),(327.5,2.1),(329.3,0.6),(331,1.2),(332.7,1.2),(334.4,1.5),(336,1.3),(337.8,1.7),(339.5,1.0),(341.2,0.3),(343,1.5),(344.6,1.8),(346.4,0.2),(348,0.4),(349.8,1.2),(351.5,1.5),(353.3,2.0),(355,1.5),(356.7,1.0),(358.4,0.2),(360,1.5),(361.8,1.0),(363.6,1.4),(365.3,0.5)]

# US-Snf (Sherman Barn), 2019
snf_insitu = [(180.8,8.3),(182,8.5),(183.2,8.0),(185.5,8.0),(188,7.8),(191.5,7.8),(195,7.7),(198.4,7.6),(201.7,7.6),(204.3,7.8),(205.2,6.6),(206.5,7.5),(208.5,7.0),(212,6.8),(215.4,6.9),(218.8,6.8),(220.5,5.3),(221.4,7.0),(224,7.3),(226.5,7.6),(229,7.5),(231.7,7.6),(234.2,8.0),(236,7.8),(237.6,7.5),(239.4,7.3),(241,7.0),(242.8,7.3),(244.5,7.0),(246.2,6.5),(247,3.5),(247.9,2.5),(249.3,6.5),(251.4,6.2),(253.9,6.0),(256.5,5.7),(259,5.2),(260,3.8),(261.6,4.8),(264.2,4.6),(266,3.5),(267.6,4.3),(270.2,4.0),(272.8,3.5),(275.4,3.5),(278.8,3.2),(282.2,2.9),(285.6,2.7),(288.2,2.3),(289.9,2.0),(292.5,2.3),(294.2,2.0),(296,1.8),(298.5,1.6),(301.2,1.3),(303.8,1.5),(306.3,1.6),(308.9,1.4),(311.5,1.2),(314,1.0),(316.6,0.9),(319.2,0.7),(321.8,0.7),(324.4,0.6),(327,0.7),(329.6,0.5),(332.2,0.2),(334.7,0.05),(337.3,0.0),(340.6,0.0),(343.2,0.2),(345.8,0.0),(348.1,0.5),(349.8,1.2),(352.4,1.0),(355,0.3),(356.7,1.0),(359.3,1.2),(361.8,1.0),(364.5,1.5)]
snf_pf = [(180.8,9.5),(182,9.0),(183,9.8),(184.6,9.3),(185.5,9.0),(187.2,9.3),(189,9.6),(190.6,9.1),(192.3,9.2),(194,9.1),(195.7,9.0),(197.4,10.5),(198.3,9.3),(200,9.5),(201.7,9.7),(203.4,9.8),(204.8,9.6),(205.5,7.5),(206.5,9.5),(207.7,8.0),(209.4,9.4),(211.2,8.7),(212.8,9.0),(214.6,8.8),(216.3,9.2),(218,8.8),(219.7,9.0),(220.9,7.2),(222.3,8.5),(224,10.2),(225.7,8.5),(227,7.0),(228.3,9.5),(230,9.0),(231.7,10.3),(233.4,9.5),(235.2,10.2),(236.8,9.7),(238.5,9.0),(240.2,8.5),(242,9.3),(243.6,8.8),(245.3,9.2),(246.7,8.3),(247.9,4.5),(249.3,8.5),(250.5,5.0),(251.4,8.2),(253,6.5),(254.4,8.0),(256.2,7.0),(257.9,6.0),(259.6,5.0),(260.8,6.0),(262.5,7.5),(264.2,8.0),(265.4,6.0),(266.8,5.5),(268.5,4.2),(270,4.8),(271,5.3),(272.3,6.0),(274,5.0),(276.3,7.5),(277.2,7.2),(278.8,5.5),(280.5,4.2),(282.2,7.2),(283.6,6.5),(284.7,5.5),(286.5,4.5),(288.2,3.8),(289.9,3.5),(291.6,3.3),(293.4,4.0),(295,5.8),(296.8,5.0),(298.5,4.0),(299.7,5.5),(301,nan),(302.8,4.7),(304.2,3.0),(305.3,2.8),(307,3.0),(308.7,2.5),(310,nan),(311.3,2.6),(313,2.2),(314.7,2.4),(316.4,1.8),(318,1.5),(319.9,2.3),(321.6,2.0),(323.3,2.2),(325,1.8),(326.7,2.0),(328.4,1.5),(330.1,1.0),(331.8,0.8),(333.5,0.5),(335.3,0.3),(337,0.8),(338.7,0.9),(340.4,1.0),(342,0.5),(343.8,0.9),(345.5,0.3),(347.3,1.2),(349,1.7),(350.7,1.5),(352.4,0.8),(354.1,1.0),(355.8,1.3),(357.5,1.0),(359.3,1.5),(361,2.0),(362.7,1.7),(364.5,2.0)]
snf_gpp = [(180.8,7.5),(182,7.7),(183.2,7.2),(184.6,5.0),(185.8,3.3),(187.2,5.2),(189,5.5),(190.6,6.0),(192.3,6.2),(194,6.1),(194.9,6.5),(195.7,6.2),(197,7.0),(198,5.3),(199.2,6.3),(201,6.5),(202.1,7.2),(203.4,7.0),(204.8,6.6),(206,5.3),(207.7,5.0),(208.9,4.2),(210.3,5.0),(211.4,5.4),(212.8,4.0),(214,5.5),(215.4,5.8),(217,5.8),(218.8,6.2),(220.2,6.1),(221.4,6.3),(222.6,6.8),(224,7.0),(225.4,5.5),(227,5.2),(228.2,7.0),(229.4,8.0),(230.8,10.8),(232.2,9.5),(233.6,8.0),(234.8,7.0),(236,6.0),(237,4.5),(238.5,6.5),(239.9,7.2),(241,6.5),(242.4,6.5),(243.6,5.5),(244.8,4.5),(246.2,5.5),(248,5.0),(249.6,4.2),(251.4,5.5),(253,4.8),(254.8,3.5),(256.5,2.8),(257.9,3.5),(259,0.9),(260.2,2.5),(261.6,4.0),(263,3.5),(264.2,3.8),(265.4,2.5),(266.8,3.5),(268.5,0.6),(269.9,3.5),(271.2,4.0),(272.8,2.5),(274.5,3.0),(276.2,2.8),(277.9,3.2),(279.6,3.5),(280.8,5.0),(282.2,2.5),(283.8,3.5),(285.6,1.5),(287.3,2.3),(289,3.0),(290.7,3.2),(292.5,2.5),(294.2,2.8),(296,2.2),(297.6,2.8),(299.3,2.0),(301,1.8),(302.8,1.2),(304.5,0.5),(306.3,0.3),(308,0.6),(309.6,0.3),(311.3,0.8),(313,0.6),(314.7,1.0),(316.4,0.5),(318,0.8),(319.9,0.5),(321.6,0.5),(323.3,1.5),(324,2.0),(325.8,0.8),(327.5,1.5),(329.3,0.8),(330.1,0.0),(333,-0.4),(337,-0.5),(340.4,-0.2),(343,0.3),(344.6,0.0),(347.3,1.5),(349,1.8),(350.7,1.2),(352.4,0.2),(354.1,1.2),(355.8,1.0),(357.5,0.5),(359.3,1.8),(361,1.5),(362.7,0.5),(364.5,1.8)]

site_titles = ["US-Bi1 (Bouldin Alfalfa)", "US-Bi2 (Bouldin Corn)",
               "US-Tw4 (Twitchell East End Wetland)", "US-Myb (Mayberry)",
               "US-Snf (Sherman Barn)"]
site_years = [2018, 2018, 2018, 2019, 2019]
site_ymax = [25, 25, 14, 14, 14]
site_ystep = [5, 5, 2, 2, 2]
day_ticks = [0, 50, 100, 150, 200, 250, 300, 350]

series_insitu = [bi1_insitu, bi2_insitu, tw4_insitu, myb_insitu, snf_insitu]
series_pf = [bi1_pf, bi2_pf, tw4_pf, myb_pf, snf_pf]
series_gpp = [bi1_gpp, bi2_gpp, tw4_gpp, myb_gpp, snf_gpp]

label_insitu = r"NIRv$^{\mathit{in\ situ}}$ $\times$ daily PAR$^{\mathrm{BESS}}$"
label_pf = r"NIRv$^{\mathrm{PF}}_{\mathrm{ECfootprint}}$ $\times$ daily PAR$^{\mathrm{BESS}}$"
label_gpp = "daily GPP"

# ---------------------------------------------------------------- style
plt.rcParams.update({
    "font.family": ["Liberation Sans", "DejaVu Sans"],
    "font.weight": "bold",
    "axes.labelweight": "bold",
    "mathtext.fontset": "custom",
    "mathtext.rm": "Liberation Sans:bold",
    "mathtext.it": "Liberation Sans:italic:bold",
    "mathtext.bf": "Liberation Sans:bold",
    "mathtext.sf": "Liberation Sans:bold",
})

RED = "#ff0000"
GREEN_LINE = "#55cc00"
GREEN_AXIS = "#66cc22"
SPINE = "#333333"
TICK_FS = 12
LABEL_FS = 12.5
XLABEL_FS = 11.7
TITLE_FS = 12.3

fig = plt.figure(figsize=(8.24, 14.93), dpi=100)

left, width = 0.0692, 0.8640
bottoms = [0.8058, 0.6129, 0.4193, 0.2251, 0.0308]
heights = [0.1614, 0.1601, 0.1608, 0.1601, 0.1601]


def split(series):
    arr = np.array(series, dtype=float)
    return arr[:, 0], arr[:, 1]


for i in range(5):
    ax = fig.add_axes([left, bottoms[i], width, heights[i]])
    ax2 = ax.twinx()

    d, v = split(series_insitu[i])
    ax.plot(d, v, color="black", lw=1.0, ls=(0, (3.5, 2.0)), zorder=3)
    d, v = split(series_pf[i])
    ax.plot(d, v, color=RED, lw=1.1, zorder=4)
    d, v = split(series_gpp[i])
    ax2.plot(d, v, color=GREEN_LINE, lw=1.6)

    ymax = site_ymax[i]
    yt = np.arange(0, ymax + 0.1, site_ystep[i])
    for a in (ax, ax2):
        a.set_xlim(0, 366)
        a.set_ylim(0, ymax)
        a.set_yticks(yt)
    ax.set_xticks(day_ticks)
    ax.grid(axis="x", color="#e3e3e3", lw=0.9, zorder=0)
    ax.set_axisbelow(True)

    ax.tick_params(axis="both", direction="in", length=3, labelsize=TICK_FS,
                   colors="#1a1a1a", width=0.6, pad=2.5)
    ax2.tick_params(axis="y", direction="in", length=3, labelsize=TICK_FS,
                    colors=GREEN_AXIS, width=0.6, pad=2.5)
    for lab in ax.get_xticklabels() + ax.get_yticklabels() + ax2.get_yticklabels():
        lab.set_fontweight("bold")

    for s in ("left", "bottom"):
        ax.spines[s].set_color(SPINE)
        ax2.spines[s].set_color(SPINE)
    ax.spines["top"].set_color("#8c8c8c")
    ax2.spines["top"].set_color("#8c8c8c")
    ax2.spines["right"].set_color(GREEN_AXIS)
    ax.spines["right"].set_visible(False)

    ax.set_ylabel("NIRvP", fontsize=LABEL_FS, fontweight="bold", labelpad=3)
    ax2.set_ylabel(r"Daily GPP (gC m$^{\mathrm{-2}}$ d$^{\mathrm{-1}}$)",
                   fontsize=LABEL_FS, fontweight="bold", color=GREEN_AXIS, labelpad=4)
    ax.set_xlabel(f"Day of year (since {site_years[i]})", fontsize=XLABEL_FS,
                  fontweight="bold", labelpad=0)
    ax.text(0.027, 0.915, site_titles[i], transform=ax.transAxes,
            ha="left", va="center", fontsize=TITLE_FS, fontweight="bold", zorder=10)

handles = [
    Line2D([], [], color="black", lw=1.0, ls=(0, (3.5, 2.0))),
    Line2D([], [], color=RED, lw=1.3),
    Line2D([], [], color=GREEN_LINE, lw=2.0),
]
leg = fig.legend(handles, [label_insitu, label_pf, label_gpp], loc="upper center",
                 bbox_to_anchor=(0.543, 0.9955), borderaxespad=0.0, ncol=3,
                 frameon=True, fancybox=False, edgecolor="#333333", fontsize=10.5,
                 handlelength=2.2, columnspacing=1.2, handletextpad=0.6,
                 borderpad=0.3)
leg.get_frame().set_linewidth(0.8)
for t in leg.get_texts():
    t.set_fontweight("bold")

fig.savefig("out.png", dpi=100)
